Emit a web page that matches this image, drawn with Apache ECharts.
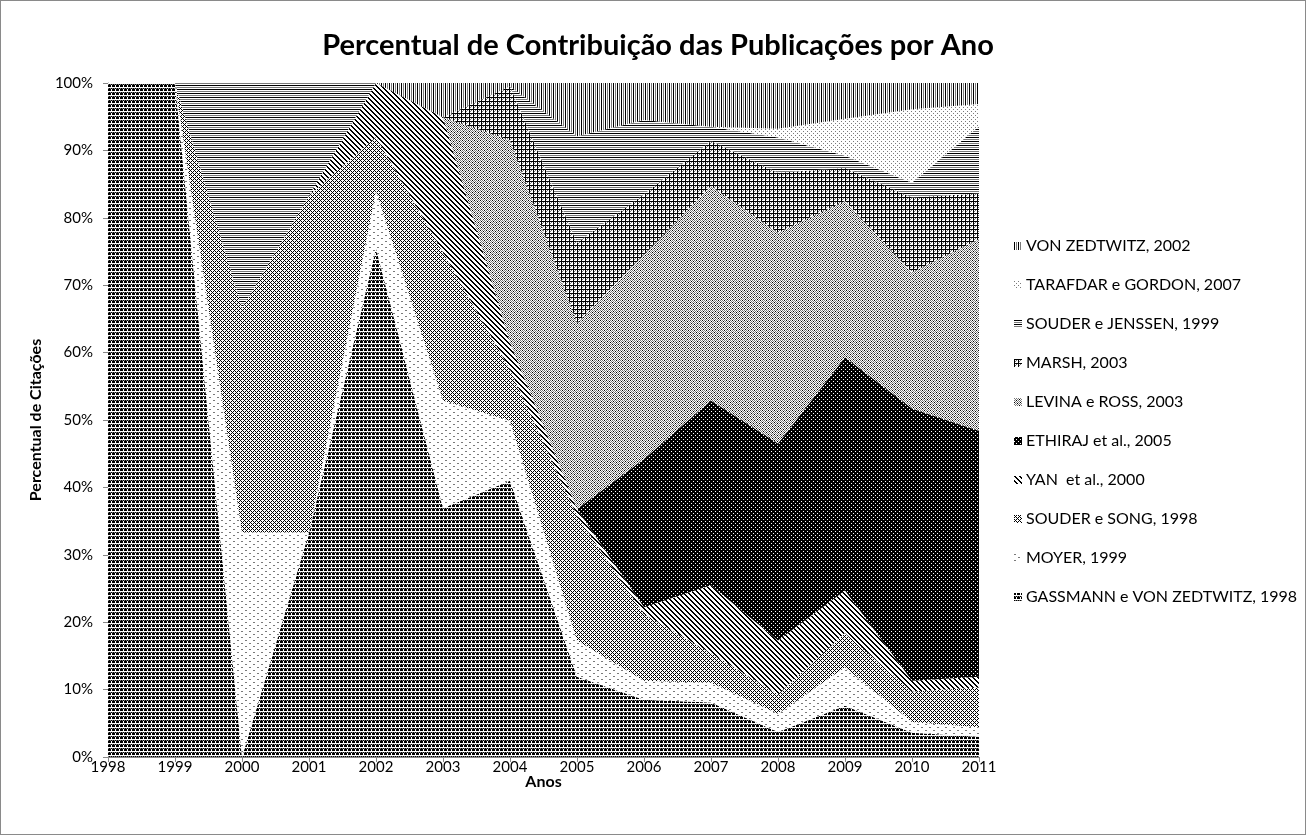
<!DOCTYPE html>
<html>
<head>
<meta charset="utf-8">
<script src="https://cdn.jsdelivr.net/npm/echarts@6/dist/echarts.min.js"></script>
<style>
html,body{margin:0;padding:0;background:#fff;}
#c{position:absolute;left:0;top:0;width:1304px;height:833px;border:1px solid #8a8a8a;}
</style>
</head>
<body>
<div id="c"></div>
<script>
// ---- data ----
const years = ['1998','1999','2000','2001','2002','2003','2004','2005','2006','2007','2008','2009','2010','2011'];
const seriesNames = ['GASSMANN e VON ZEDTWITZ, 1998','MOYER, 1999','SOUDER e SONG, 1998','YAN  et al., 2000','ETHIRAJ et al., 2005','LEVINA e ROSS, 2003','MARSH, 2003','SOUDER e JENSSEN, 1999','TARAFDAR e GORDON, 2007','VON ZEDTWITZ, 2002'];
const gassmann = [100,100,0,33.3,75.5,36.9,41,11.9,8.5,8.1,3.7,7.6,3.6,3.0];
const moyer    = [0,0,33.3,0,8.5,16,8.9,5.4,2.8,2.9,2.7,5.7,1.6,1.4];
const souderSong = [0,0,33.3,50,8,22,7.6,18.5,9.9,4.4,2.9,5.1,4.5,5.9];
const yan      = [0,0,0,0,8,20,4,1,1,10.1,8,6.3,1.6,1.6];
const ethiraj  = [0,0,0,0,0,0,0,0,22,27.4,29.2,34.6,40.4,36.5];
const levina   = [0,0,0,0,0,0,30,27.6,30.3,31.8,31.3,23.2,20.2,28.4];
const marsh    = [0,0,0,0,0,0,8,11.9,9,6.7,8.9,4.9,11.1,6.8];
const jenssen  = [0,0,33.4,16.7,0,0,0,15.8,11,2.1,5.2,1.8,2.2,10];
const tarafdar = [0,0,0,0,0,0,0,0,0,0,1.3,5.5,10.9,3.3];
const vonZedtwitz = [0,0,0,0,0,5.1,0.5,7.9,5.5,6.5,6.8,5.3,3.9,3.1];
const yTicks = [0,10,20,30,40,50,60,70,80,90,100];

// ---- pattern fills ----
function makePattern(rows){
  const h=rows.length, w=rows[0].length;
  const c=document.createElement('canvas'); c.width=w; c.height=h;
  const ctx=c.getContext('2d');
  ctx.fillStyle='#fff'; ctx.fillRect(0,0,w,h);
  const cols={'#':'#000','+':'#7a7a7a','-':'#b0b0b0'};
  for(let y=0;y<h;y++)for(let x=0;x<w;x++){
    const ch=rows[y][x]; if(cols[ch]){ctx.fillStyle=cols[ch];ctx.fillRect(x,y,1,1);}
  }
  return {image:c, repeat:'repeat'};
}
const patterns = [
  makePattern(['##.#','##.#','....','#+#+']),                 // gassmann
  makePattern(['++......','........','........','....++..','........','........']), // moyer
  makePattern(['#.#.','.#..','#.#.','...#']),                 // souder song
  makePattern(['##...','.##..','..##.','...##','#...#']),     // yan
  makePattern(['.###','####','##.#','####']),                 // ethiraj
  makePattern(['+.+.+.','.+.+.#','+.#.+.','.+.+.+','#.+.+.','.+.#.+']), // levina
  makePattern(['####','#.+.','#+..','#...']),                 // marsh
  makePattern(['####','....','++++','....']),                 // jenssen
  makePattern(['+...','....','..+.','....']),                 // tarafdar
  makePattern(['#.+.','#.+.'])                                // von zedtwitz
];
const values = [gassmann,moyer,souderSong,yan,ethiraj,levina,marsh,jenssen,tarafdar,vonZedtwitz];

const chart = echarts.init(document.getElementById('c'), null, {renderer:'canvas'});
const font = 'Lato, "Open Sans", sans-serif';
const series = seriesNames.map((n,i)=>({
  name:n, type:'line', stack:'total', data:values[i],
  symbol:'none', lineStyle:{width:0},
  areaStyle:{color:patterns[i], opacity:1},
  itemStyle:{color:patterns[i]},
  emphasis:{disabled:true}
}));
chart.setOption({
  animation:false,
  backgroundColor:'#fff',
  title:{text:'Percentual de Contribuição das Publicações por Ano', left:652, top:25, textAlign:'center',
    textStyle:{fontFamily:font, fontWeight:'bold', fontSize:29, color:'#000'}},
  grid:{left:107, right:326, top:82, bottom:77},
  legend:{orient:'vertical', left:1008, top:232, icon:'rect', itemWidth:8, itemHeight:8, itemGap:23,
    data:seriesNames.slice().reverse(),
    textStyle:{fontFamily:font, fontSize:16, color:'#000', padding:[0,0,0,-1]}},
  xAxis:{type:'category', data:years, boundaryGap:false,
    name:'Anos', nameLocation:'middle', nameGap:17, nameMoveOverlap:false,
    nameTextStyle:{fontFamily:font, fontWeight:'bold', fontSize:16, color:'#000'},
    axisLine:{lineStyle:{color:'#868686'}},
    axisTick:{show:true, length:5, lineStyle:{color:'#868686'}},
    axisLabel:{fontFamily:font, fontSize:15, color:'#000', margin:3}},
  yAxis:{type:'value', min:yTicks[0], max:yTicks[yTicks.length-1], interval:10,
    name:'Percentual de Citações', nameLocation:'middle', nameGap:64, nameMoveOverlap:false,
    nameTextStyle:{fontFamily:font, fontWeight:'bold', fontSize:16, color:'#000'},
    axisLine:{show:true, lineStyle:{color:'#868686'}},
    axisTick:{show:true, length:5, lineStyle:{color:'#868686'}},
    splitLine:{show:false},
    axisLabel:{fontFamily:font, fontSize:15, color:'#000', margin:15, formatter:'{value}%'}},
  series:series
});
</script>
</body>
</html>
